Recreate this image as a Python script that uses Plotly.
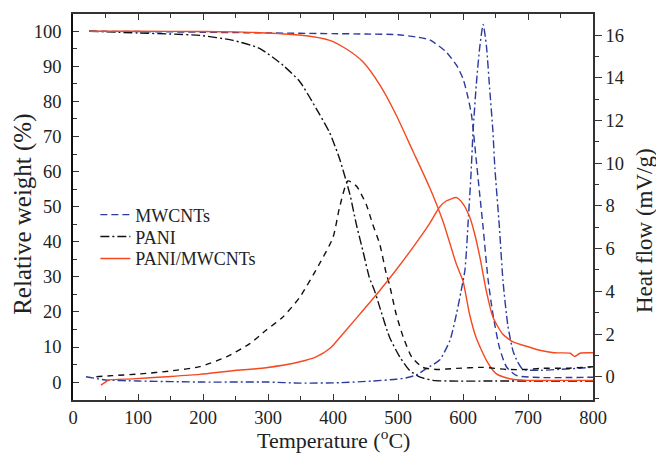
import plotly.graph_objects as go

# ---------------- data ----------------
# MWCNTs thermogravimetric curve (relative weight, %)
mw_tg_T = [25, 100, 200, 300, 400, 450, 500, 530, 549, 574, 590, 600, 608, 613, 615.5,
           620, 626, 631, 638.5, 646, 656, 667, 682, 718, 760, 800]
mw_tg_W = [100, 99.9, 99.7, 99.5, 99.3, 99.2, 99.0, 98.3, 97.5, 94.1, 90.3, 86.5, 80.9, 76.2, 72.4,
           64, 53, 44, 29.3, 19.4, 9.9, 4.3, 1.9, 1.3, 1.3, 1.4]
# MWCNTs heat flow (mV/g)
mw_df_T = [20, 50, 100, 200, 300, 350, 410, 461, 497, 513, 528, 544, 564, 580, 590, 597,
           603, 608, 612, 615.5, 620.5, 626, 631, 636, 641, 646, 649, 656, 661.5, 669,
           677, 684, 692, 720, 750, 780, 800]
mw_df_H = [0.0, -0.15, -0.2, -0.25, -0.25, -0.3, -0.28, -0.2, -0.12, -0.05, 0.08, 0.39, 0.78, 1.71, 2.95, 4.0,
           5.0, 7.3, 9.3, 11.5, 13.7, 15.5, 16.5, 15.5, 13.5, 11.5, 9.8, 7.0, 4.5, 2.4,
           1.2, 0.7, 0.35, 0.3, 0.35, 0.4, 0.45]

# PANI thermogravimetric curve
pa_tg_T = [25, 100, 150, 195, 246, 287, 323, 349, 374, 395, 410, 426, 436, 446, 456, 464,
           472, 487, 503, 518, 534, 554, 580, 650, 800]
pa_tg_W = [100, 99.5, 99.2, 98.8, 97.4, 95.1, 90.3, 85.6, 78, 71, 63.7, 53.5, 44.9, 37.4, 29.8, 26,
           21.3, 12.8, 7.1, 3.3, 1.4, 0.5, 0.3, 0.3, 0.3]
# PANI heat flow
pa_df_T = [36, 60, 103, 150, 195, 236, 272, 297, 323, 349, 379, 400, 410, 423, 436, 451,
           461, 472, 482, 487, 497, 508, 521, 538, 559, 590, 631, 667, 698, 718, 760, 800]
pa_df_H = [0.0, 0.05, 0.13, 0.27, 0.47, 0.93, 1.55, 2.18, 2.8, 3.73, 5.28, 6.52, 7.92, 9.17, 8.93, 8.08,
           7.15, 6.2, 4.82, 4.3, 2.95, 1.86, 0.93, 0.44, 0.34, 0.39, 0.44, 0.34, 0.34, 0.39, 0.4, 0.47]

# PANI/MWCNTs thermogravimetric curve
pm_tg_T = [25, 100, 200, 250, 297, 349, 395, 420, 446, 472, 497, 523, 549, 569, 590, 600,
           610, 620, 636, 651, 672, 698, 750, 800]
pm_tg_W = [100, 100, 99.9, 99.8, 99.5, 98.9, 97.4, 95, 91.3, 84.7, 76.2, 65.8, 55.3, 45.9, 33.5, 28.8,
           19.4, 12.8, 6.2, 2.4, 0.96, 0.5, 0.5, 0.5]
# PANI/MWCNTs heat flow
pm_df_T = [43, 50, 56, 92, 144, 195, 246, 297, 349, 374, 395, 420, 446, 472, 497, 523,
           549, 564, 574, 590, 600, 610, 617, 626, 636, 646, 661, 677, 692, 718, 740, 765,
           772, 780, 800]
pm_df_H = [-0.39, -0.25, -0.15, -0.1, 0.0, 0.11, 0.28, 0.42, 0.7, 0.93, 1.32, 2.18, 3.1, 4.04, 5.0, 6.06,
           7.2, 7.95, 8.23, 8.39, 8.1, 7.5, 6.8, 5.6, 4.0, 2.8, 2.0, 1.63, 1.48, 1.24, 1.12, 1.1,
           0.95, 1.1, 1.12]

x_ticks = [0, 100, 200, 300, 400, 500, 600, 700, 800]
y_ticks = [0, 10, 20, 30, 40, 50, 60, 70, 80, 90, 100]
y2_ticks = [0, 2, 4, 6, 8, 10, 12, 14, 16]

# ---------------- style ----------------
BLUE = "#2b3b9e"
BLACK = "#111111"
RED = "#f6481f"
FONT = "Liberation Serif"
AX = "#333333"

fig = go.Figure()

def add(x, y, name, color, dash, axis, legend=None):
    fig.add_trace(go.Scatter(
        x=x, y=y, name=name, mode="lines", yaxis=axis,
        line=dict(color=color, width=1.4, dash=dash, shape="spline", smoothing=0.6),
        showlegend=legend is not None, legend=legend or "legend",
    ))

add(mw_tg_T, mw_tg_W, "MWCNTs", BLUE, "7px,4px", "y", "legend")
add(pa_tg_T, pa_tg_W, "PANI", BLACK, "9px,3px,2px,3px", "y", "legend2")
add(pm_tg_T, pm_tg_W, "PANI/MWCNTs", RED, "solid", "y", "legend3")
add(mw_df_T, mw_df_H, "MWCNTs", BLUE, "8px,3px,2px,3px", "y2")
add(pa_df_T, pa_df_H, "PANI", BLACK, "6px,5px", "y2")
add(pm_df_T, pm_df_H, "PANI/MWCNTs", RED, "solid", "y2")

tickfont = dict(family=FONT, size=18.5, color="#222222")

def leg(row_y_px):
    # legend row whose text is centred at the given pixel row
    return dict(x=0.043, y=(400 - row_y_px) / 388, xanchor="left", yanchor="middle",
                bgcolor="rgba(0,0,0,0)", font=dict(family=FONT, size=18, color="#222222"),
                itemwidth=30)

fig.update_layout(
    width=656, height=453,
    margin=dict(l=73, r=63, t=12, b=53),
    paper_bgcolor="white", plot_bgcolor="white",
    showlegend=True,
    legend=leg(214), legend2=leg(236), legend3=leg(258),
    xaxis=dict(range=[0, 800], tickvals=x_ticks, ticks="inside", ticklen=6, tickwidth=1.2,
               tickcolor=AX, showline=True, linecolor=AX, linewidth=1.5, mirror="ticks",
               showgrid=False, zeroline=False, tickfont=tickfont, ticklabelstandoff=0,
               minor=dict(dtick=50, ticks="inside", ticklen=4, tickcolor=AX, showgrid=False)),
    yaxis=dict(range=[-5.1, 104.9], tickvals=y_ticks, ticks="inside", ticklen=6, tickwidth=1.2,
               tickcolor=AX, showline=True, linecolor="#111111", linewidth=1.5,
               showgrid=False, zeroline=False, tickfont=tickfont, ticklabelstandoff=6,
               minor=dict(dtick=5, tick0=0, ticks="inside", ticklen=4, tickcolor=AX, showgrid=False)),
    yaxis2=dict(range=[-1.09, 16.99], tickvals=y2_ticks, overlaying="y", side="right",
                ticks="outside", ticklen=7, tickwidth=1.2, tickcolor=AX,
                showline=True, linecolor=AX, linewidth=1.5, showgrid=False, zeroline=False,
                tickfont=tickfont,
                minor=dict(dtick=1, tick0=0, ticks="outside", ticklen=4, tickcolor=AX, showgrid=False)),
    annotations=[
        dict(text="Temperature (<sup>o</sup>C)", xref="paper", yref="paper", x=0.5, y=-0.1,
             xanchor="center", yanchor="middle", showarrow=False,
             font=dict(family=FONT, size=22, color="#222222")),
        dict(text="Relative weight (%)", xref="paper", yref="paper", x=-0.096, y=0.48,
             xanchor="center", yanchor="middle", showarrow=False, textangle=-90,
             font=dict(family=FONT, size=25, color="#222222")),
        dict(text="Heat flow (mV/g)", xref="paper", yref="paper", x=1.098, y=0.44,
             xanchor="center", yanchor="middle", showarrow=False, textangle=-90,
             font=dict(family=FONT, size=23, color="#222222")),
    ],
)

fig.write_html("out.html")
